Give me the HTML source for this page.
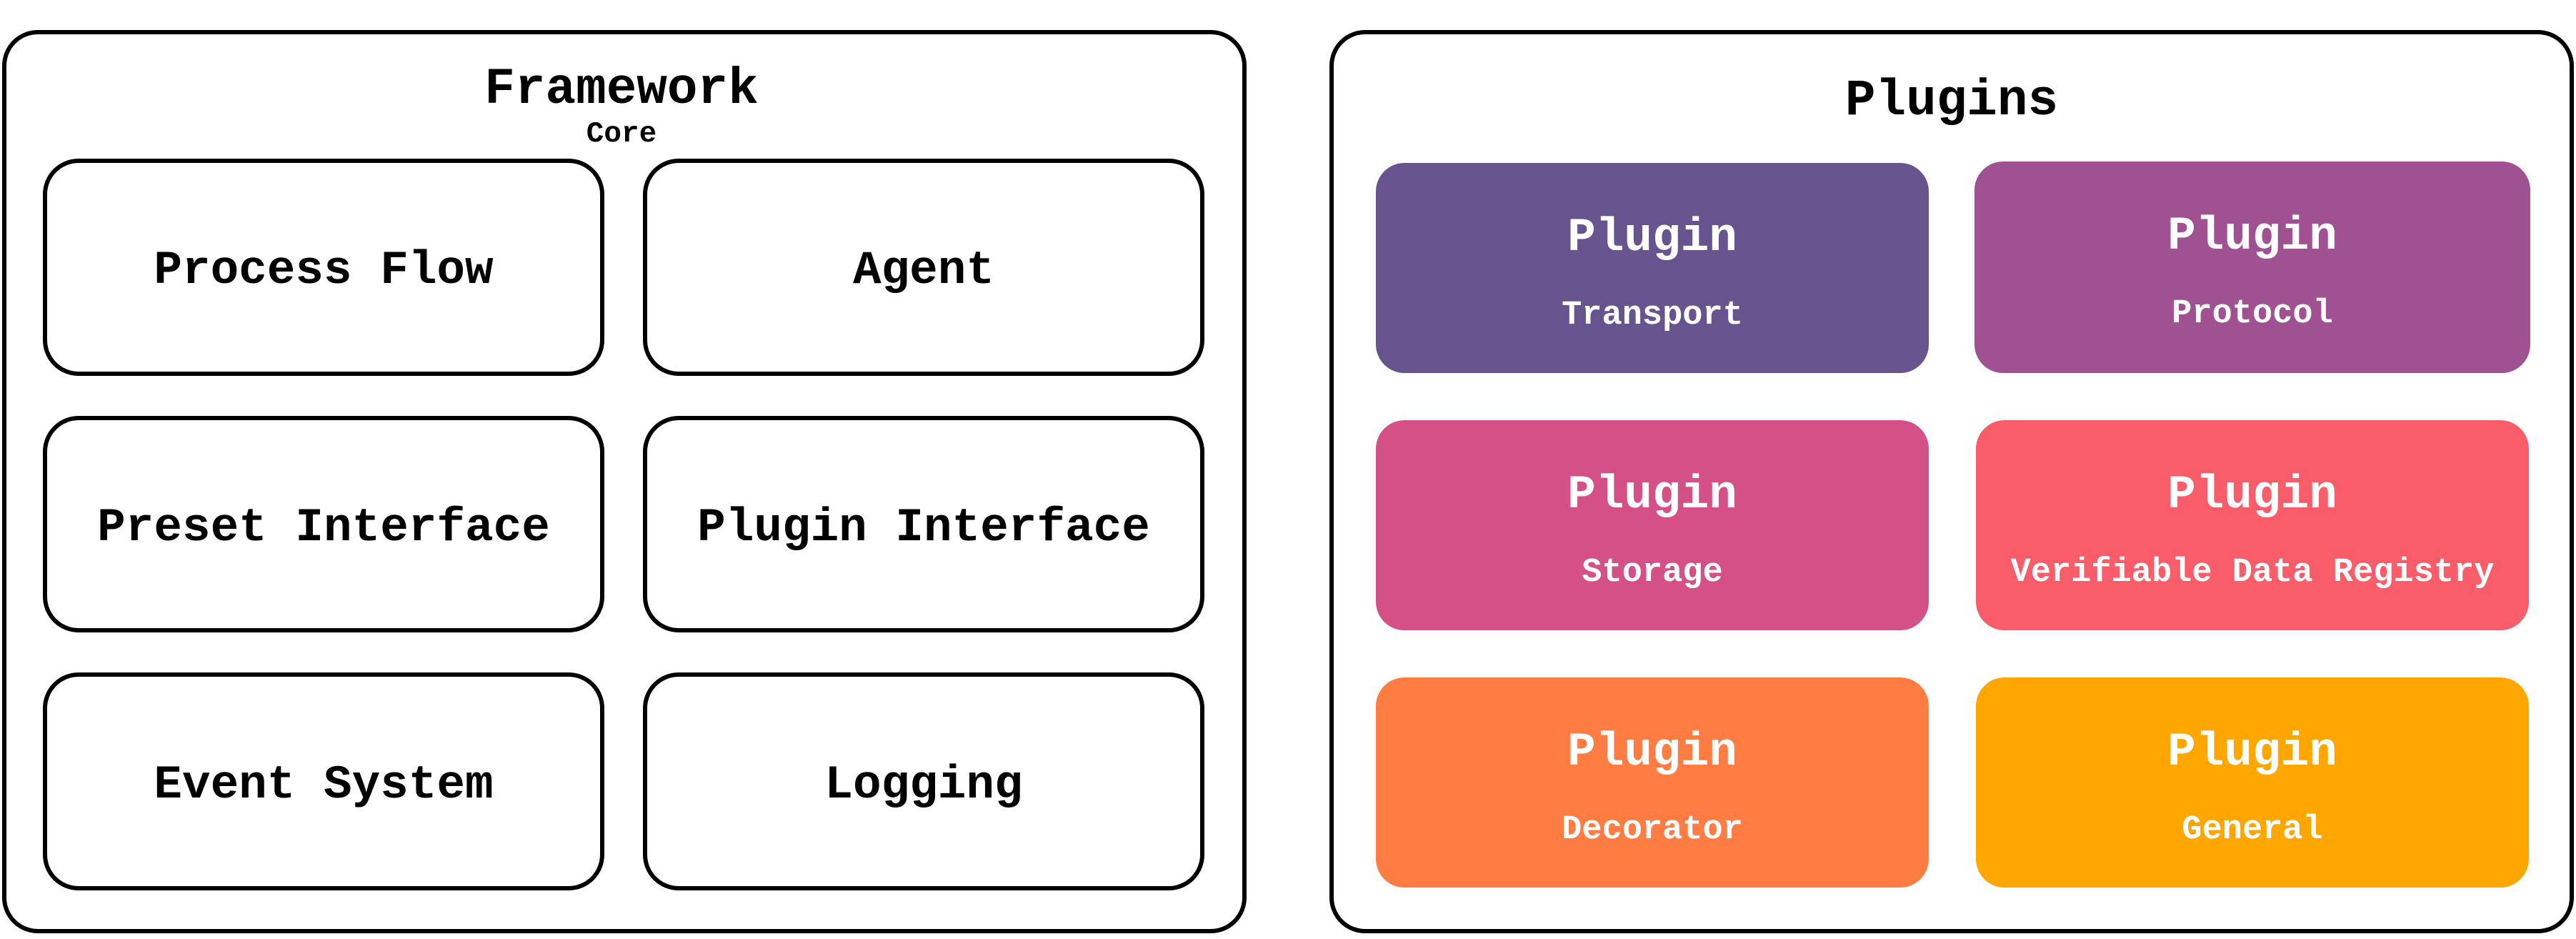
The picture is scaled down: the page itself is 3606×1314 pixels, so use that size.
<!DOCTYPE html>
<html><head><meta charset="utf-8"><style>
html,body{margin:0;padding:0;background:#fff;}
body{width:3606px;height:1314px;position:relative;overflow:hidden;font-family:"Liberation Mono","Courier New",monospace;font-weight:bold;}
.b{position:absolute;box-sizing:border-box;}
.o{border:6px solid #000;border-radius:50px;}
.w{border:6px solid #000;border-radius:50px;display:flex;align-items:center;justify-content:center;font-size:66px;color:#000;padding-top:9px;}
.t{position:absolute;text-align:center;white-space:nowrap;}
.c{border-radius:40px;color:#fff;}
.c .p{position:absolute;left:0;right:0;top:65px;text-align:center;font-size:66px;line-height:80px;}
.c .s{position:absolute;left:0;right:0;top:184px;text-align:center;font-size:47px;line-height:60px;white-space:nowrap;}
</style></head><body>
<div class="b o" style="left:3px;top:42px;width:1742px;height:1264px;"></div>
<div class="t" style="left:0;width:1740px;top:84px;font-size:71px;line-height:84px;">Framework</div>
<div class="t" style="left:0;width:1740px;top:164px;font-size:41px;line-height:48px;">Core</div>
<div class="b w" style="left:60px;top:222px;width:786px;height:304px;">Process Flow</div>
<div class="b w" style="left:900px;top:222px;width:786px;height:304px;">Agent</div>
<div class="b w" style="left:60px;top:582px;width:786px;height:303px;">Preset Interface</div>
<div class="b w" style="left:900px;top:582px;width:786px;height:303px;">Plugin Interface</div>
<div class="b w" style="left:60px;top:941px;width:786px;height:305px;">Event System</div>
<div class="b w" style="left:900px;top:941px;width:786px;height:305px;">Logging</div>

<div class="b o" style="left:1861px;top:42px;width:1742px;height:1264px;"></div>
<div class="t" style="left:1861px;width:1742px;top:100px;font-size:71px;line-height:84px;">Plugins</div>

<div class="b c" style="left:1926px;top:228px;width:774px;height:294px;background:#67548F;"><div class="p">Plugin</div><div class="s">Transport</div></div>
<div class="b c" style="left:2764px;top:226px;width:778px;height:296px;background:#A05192;"><div class="p">Plugin</div><div class="s">Protocol</div></div>
<div class="b c" style="left:1926px;top:588px;width:774px;height:294px;background:#D45087;"><div class="p">Plugin</div><div class="s">Storage</div></div>
<div class="b c" style="left:2766px;top:588px;width:774px;height:294px;background:#F95D6A;"><div class="p">Plugin</div><div class="s">Verifiable Data Registry</div></div>
<div class="b c" style="left:1926px;top:948px;width:774px;height:294px;background:#FF7C43;"><div class="p">Plugin</div><div class="s">Decorator</div></div>
<div class="b c" style="left:2766px;top:948px;width:774px;height:294px;background:#FFA600;"><div class="p">Plugin</div><div class="s">General</div></div>
</body></html>
